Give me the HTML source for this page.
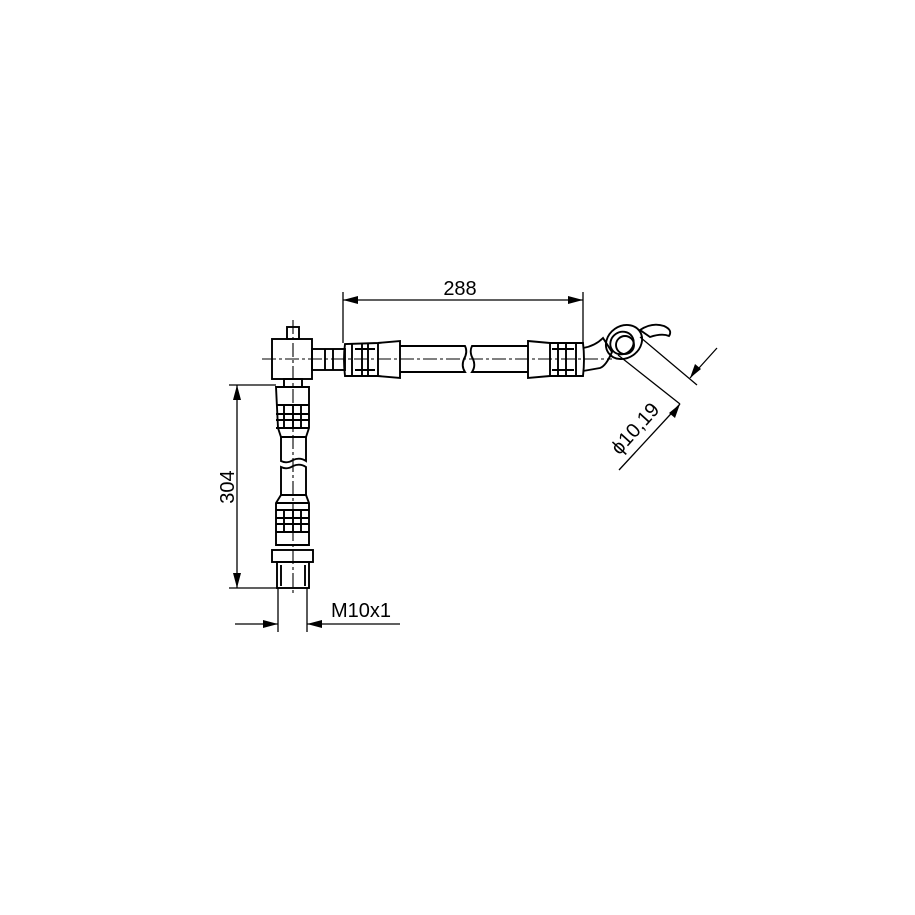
<!DOCTYPE html>
<html><head><style>body{margin:0;background:#fff}svg{display:block}</style></head><body>
<svg width="915" height="915" viewBox="0 0 915 915" xmlns="http://www.w3.org/2000/svg" font-family="Liberation Sans, sans-serif">
<rect width="915" height="915" fill="#fff"/>
<g fill="none" stroke="#000" stroke-width="1.9">
<rect x="272" y="339" width="40" height="40"/>
<rect x="287" y="327" width="12" height="12"/>
<rect x="284" y="379" width="18" height="8"/>
<rect x="312" y="349" width="33" height="21"/>
<line x1="325" y1="349" x2="325" y2="370"/><line x1="333" y1="349" x2="333" y2="370"/>
<path d="M345 344 Q343 359 345 376 L378 376 L400 378 L400 341 L378 343 Z"/>
<line x1="352" y1="344" x2="352" y2="376"/><line x1="362" y1="344" x2="362" y2="376"/>
<line x1="368" y1="344" x2="368" y2="376"/><line x1="378" y1="343" x2="378" y2="376"/>
<line x1="355" y1="349" x2="375" y2="349"/><line x1="355" y1="370" x2="375" y2="370"/>
<path d="M400 346 L465 346 Q468 352 464 359 Q461 366 465 372 L400 372"/>
<path d="M528 346 L472 346 Q469 352 473 359 Q476 366 472 372 L528 372"/>
<path d="M528 341 L550 343 L583 343 Q585 359 583 376 L550 376 L528 378 Z"/>
<line x1="550" y1="343" x2="550" y2="376"/><line x1="558" y1="343" x2="558" y2="376"/>
<line x1="566" y1="343" x2="566" y2="376"/><line x1="576" y1="343" x2="576" y2="376"/>
<line x1="552" y1="349" x2="574" y2="349"/><line x1="552" y1="370" x2="574" y2="370"/>
<path d="M583 348 Q595 346 603 338 L612 352 Q606 366 600 368 L583 371"/>
<ellipse cx="624" cy="342" rx="19" ry="16" transform="rotate(-35 624 342)"/>
<ellipse cx="622" cy="343" rx="12" ry="11" transform="rotate(-35 622 343)"/>
<ellipse cx="625" cy="345" rx="9" ry="9"/>
<path d="M640 330 Q652 322 664 326 Q673 330 669 336 Q662 333 650 337 Z"/>
<path d="M276 387 L309 387 L309 428 L306 437 L281 437 L278 428 Z"/>
<line x1="276" y1="405" x2="309" y2="405"/><line x1="276" y1="414" x2="309" y2="414"/>
<line x1="276" y1="420" x2="309" y2="420"/><line x1="276" y1="428" x2="309" y2="428"/>
<line x1="284" y1="405" x2="284" y2="428"/><line x1="293" y1="405" x2="293" y2="428"/><line x1="301" y1="405" x2="301" y2="428"/>
<path d="M281 437 L281 461 Q287 464 293 460 Q300 457 306 461 L306 437"/>
<path d="M281 495 L281 467 Q287 470 293 466 Q300 463 306 467 L306 495"/>
<path d="M281 495 L306 495 L309 503 L309 545 L276 545 L276 503 Z"/>
<line x1="276" y1="503" x2="309" y2="503"/><line x1="276" y1="510" x2="309" y2="510"/>
<line x1="276" y1="518" x2="309" y2="518"/><line x1="276" y1="524" x2="309" y2="524"/>
<line x1="284" y1="510" x2="284" y2="532"/><line x1="293" y1="510" x2="293" y2="532"/><line x1="301" y1="510" x2="301" y2="532"/>
<line x1="276" y1="532" x2="309" y2="532"/>
<rect x="272" y="550" width="41" height="12"/>
<rect x="277" y="562" width="32" height="26"/>
<line x1="281" y1="565" x2="281" y2="586"/><line x1="305" y1="565" x2="305" y2="586"/>
</g>
<g stroke="#000" stroke-width="1.1" stroke-dasharray="14 3 3 3" fill="none">
<line x1="262" y1="359" x2="612" y2="359"/>
<line x1="293" y1="320" x2="293" y2="595"/>
</g>
<g stroke="#000" stroke-width="1.3" fill="none">
<line x1="343" y1="292" x2="343" y2="343"/><line x1="583" y1="292" x2="583" y2="343"/>
<line x1="343" y1="300" x2="583" y2="300"/>
<line x1="229" y1="385" x2="276" y2="385"/><line x1="229" y1="588" x2="277" y2="588"/>
<line x1="237" y1="385" x2="237" y2="588"/>
<line x1="278" y1="588" x2="278" y2="632"/><line x1="307" y1="588" x2="307" y2="632"/>
<line x1="235" y1="624" x2="278" y2="624"/><line x1="307" y1="624" x2="400" y2="624"/>
<line x1="640" y1="337" x2="697" y2="385"/><line x1="618" y1="355" x2="680" y2="404"/>
<line x1="717" y1="348" x2="690" y2="378"/><line x1="680" y1="404" x2="619" y2="470"/>
</g>
<g fill="#000">
<polygon points="343,300 358,296 358,304"/><polygon points="583,300 568,296 568,304"/>
<polygon points="237,385 233,400 241,400"/><polygon points="237,588 233,573 241,573"/>
<polygon points="278,624 263,620 263,628"/><polygon points="307,624 322,620 322,628"/>
<polygon points="690,378 695,364 701,369"/><polygon points="680,404 675,418 669,413"/>
</g>
<g font-size="20" fill="#000">
<text x="460" y="295" text-anchor="middle">288</text>
<text transform="translate(234,487) rotate(-90)" text-anchor="middle">304</text>
<text x="331" y="617">M10x1</text>
<text transform="translate(640,433) rotate(-48)" text-anchor="middle">ϕ10,19</text>
</g>
</svg>
</body></html>
